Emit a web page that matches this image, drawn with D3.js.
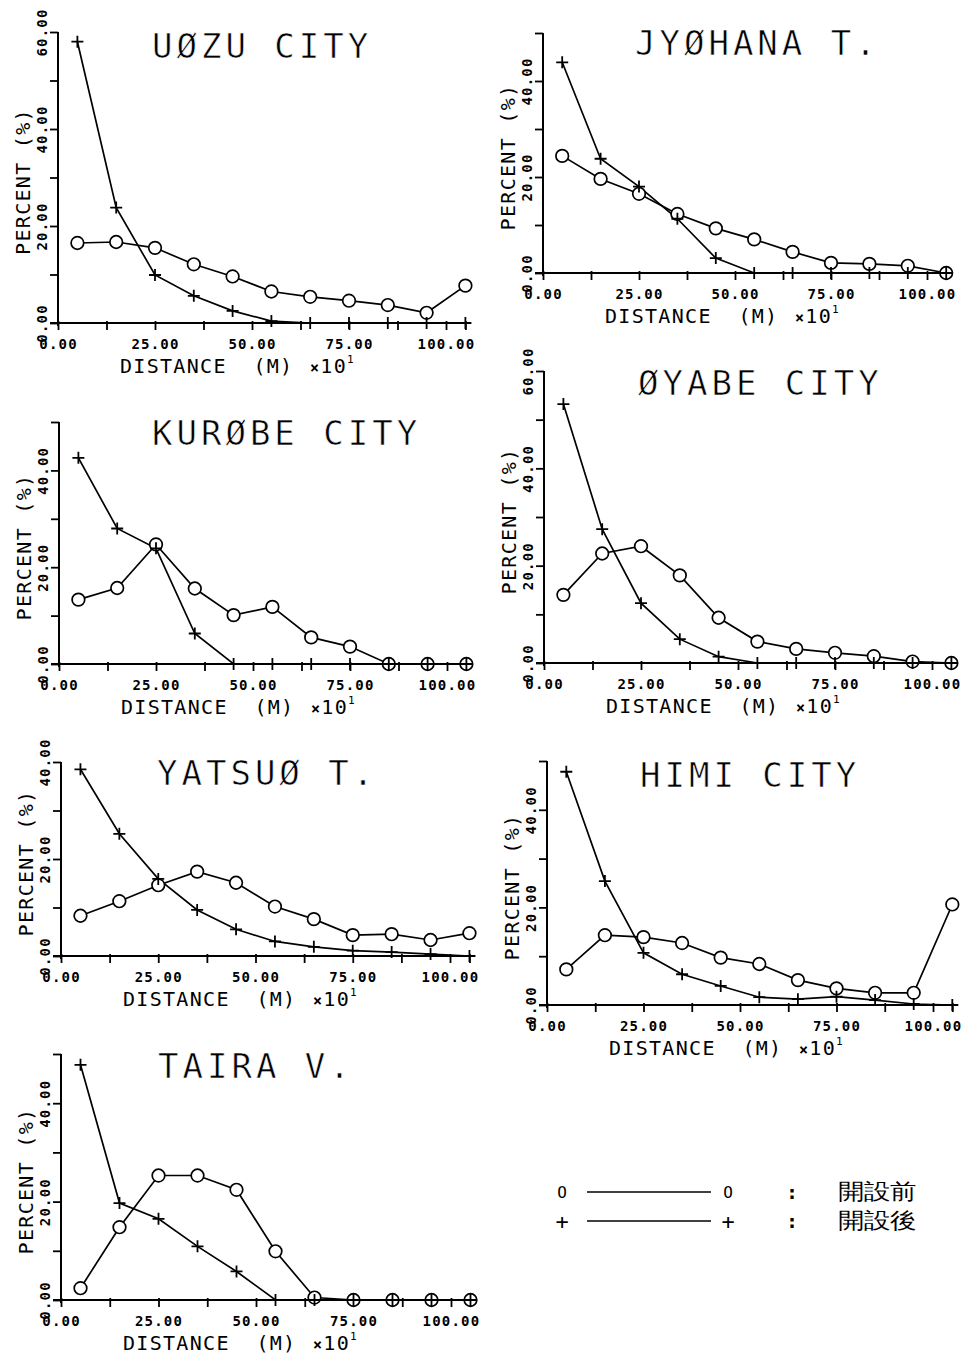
<!DOCTYPE html>
<html>
<head>
<meta charset="utf-8">
<script src="https://cdn.jsdelivr.net/npm/d3@7"></script>
<style>
  html, body { margin: 0; padding: 0; background: #fff; }
  svg { display: block; }
  text { font-family: "DejaVu Sans Mono", monospace; fill: #000; white-space: pre; }
  .thin { stroke: #fff; stroke-width: 0.6; }
</style>
</head>
<body>
<svg id="chart" width="971" height="1358"></svg>
<script>
// Distance classes (x 10 m), centre of each 100 m band
const distances = [5, 15, 25, 35, 45, 55, 65, 75, 85, 95, 105];

// Tick positions and labels
const xMajorTicks = [0, 25, 50, 75, 100];
const xMinorTicks = [12.5, 37.5, 62.5, 87.5];
const xTickLabels = ["0.00", "25.00", "50.00", "75.00", "100.00"];
const yTickLabelFormat = v => v.toFixed(2);

// Panel names and vertical ranges
const panelTitles = ["UØZU CITY", "JYØHANA T.", "KURØBE CITY", "ØYABE CITY", "YATSUØ T.", "HIMI CITY", "TAIRA V."];
const yAxisMax = [60, 50, 50, 60, 40, 50, 50];

// Percent of users by distance: before (開設前, circles) and after (開設後, crosses)
const uozuBefore    = [16.5, 16.7, 15.5, 12.1, 9.6, 6.5, 5.4, 4.6, 3.7, 2.1, 7.7];
const uozuAfter     = [58.0, 23.8, 9.9, 5.6, 2.5, 0.4, 0, 0, 0, 0, 0];
const jyohanaBefore = [24.4, 19.6, 16.5, 12.3, 9.3, 7.0, 4.4, 2.1, 1.9, 1.5, 0];
const jyohanaAfter  = [43.9, 23.8, 18.0, 11.3, 3.1, 0, 0, 0, 0, 0, 0];
const kurobeBefore  = [13.3, 15.7, 24.7, 15.6, 10.1, 11.8, 5.5, 3.6, 0, 0, 0];
const kurobeAfter   = [42.6, 28.0, 23.9, 6.3, 0, 0, 0, 0, 0, 0, 0];
const oyabeBefore   = [14.0, 22.5, 24.0, 18.0, 9.3, 4.4, 2.9, 2.1, 1.4, 0.3, 0];
const oyabeAfter    = [53.2, 27.5, 12.3, 4.9, 1.3, 0, 0, 0, 0, 0, 0];
const yatsuoBefore  = [8.3, 11.3, 14.6, 17.4, 15.1, 10.2, 7.6, 4.3, 4.5, 3.3, 4.7];
const yatsuoAfter   = [38.5, 25.2, 15.9, 9.5, 5.5, 3.0, 1.9, 1.1, 0.8, 0.4, 0];
const himiBefore    = [7.3, 14.3, 13.9, 12.7, 9.7, 8.4, 5.1, 3.4, 2.5, 2.5, 20.6];
const himiAfter     = [47.8, 25.4, 10.7, 6.3, 3.9, 1.6, 1.2, 1.7, 1.0, 0.2, 0];
const tairaBefore   = [2.4, 14.8, 25.3, 25.3, 22.4, 9.9, 0.5, 0, 0, 0, 0];
const tairaAfter    = [47.8, 19.7, 16.5, 10.9, 5.8, 0, 0, 0, 0, 0, 0];

const seriesBefore = [uozuBefore, jyohanaBefore, kurobeBefore, oyabeBefore, yatsuoBefore, himiBefore, tairaBefore];
const seriesAfter  = [uozuAfter, jyohanaAfter, kurobeAfter, oyabeAfter, yatsuoAfter, himiAfter, tairaAfter];

// Legend
const legendLabels = ["開設前", "開設後"];

// ---- layout (pixel frame of each panel) ----
const panelFrames = [
  { x0: 58,  x100: 446, y0: 323,  yTop: 32,   tx: 152, ty: 58 },
  { x0: 543, x100: 927, y0: 273,  yTop: 33,   tx: 635, ty: 55 },
  { x0: 59,  x100: 447, y0: 664,  yTop: 422,  tx: 152, ty: 445 },
  { x0: 544, x100: 932, y0: 663,  yTop: 371,  tx: 638, ty: 395 },
  { x0: 61,  x100: 450, y0: 956,  yTop: 762,  tx: 157, ty: 785 },
  { x0: 547, x100: 933, y0: 1005, yTop: 761,  tx: 640, ty: 787 },
  { x0: 61,  x100: 451, y0: 1300, yTop: 1054, tx: 158, ty: 1078 }
];

const svg = d3.select("#chart");
svg.append("rect").attr("width", 971).attr("height", 1358).attr("fill", "#fff");

const plusPath = "M-6,0H6M0,-6V6";

panelFrames.forEach((f, i) => {
  const g = svg.append("g");
  const xEnd = f.x0 + (f.x100 - f.x0) * 1.05;
  const x = d3.scaleLinear().domain([0, 105]).range([f.x0, xEnd]);
  const y = d3.scaleLinear().domain([0, yAxisMax[i]]).range([f.y0, f.yTop]);

  // X axis
  const xTicks = xMajorTicks.concat(xMinorTicks, [105]).sort((a, b) => a - b);
  const xAxis = d3.axisBottom(x)
    .tickValues(xTicks)
    .tickSize(7)
    .tickSizeOuter(0)
    .tickFormat(d => {
      const k = xMajorTicks.indexOf(d);
      return k >= 0 ? xTickLabels[k] : "";
    });
  const gx = g.append("g").attr("transform", `translate(0,${f.y0})`).call(xAxis);
  gx.select(".domain").attr("stroke", "#000").attr("stroke-width", 2)
    .attr("d", `M${f.x0 - 8},0H${xEnd + 3}`);
  gx.selectAll(".tick line").attr("stroke", "#000").attr("stroke-width", 1.8).attr("y1", -2);
  gx.selectAll(".tick text")
    .attr("y", 26).attr("dy", 0)
    .attr("font-family", "DejaVu Sans Mono, monospace")
    .attr("font-size", 14).attr("font-weight", "bold")
    .attr("letter-spacing", 1.2)
    .attr("fill", "#000");

  // Y axis
  const yTicks = d3.range(0, yAxisMax[i] + 1, 10);
  const yAxis = d3.axisLeft(y)
    .tickValues(yTicks)
    .tickSize(8)
    .tickSizeOuter(0)
    .tickFormat(d => d % 20 === 0 ? yTickLabelFormat(d) : "");
  const gy = g.append("g").attr("transform", `translate(${f.x0},0)`).call(yAxis);
  gy.select(".domain").attr("stroke", "#000").attr("stroke-width", 2)
    .attr("d", `M0,${f.yTop}V${f.y0 + 3}`);
  gy.selectAll(".tick line").attr("stroke", "#000").attr("stroke-width", 1.8);
  gy.selectAll(".tick text")
    .attr("transform", "rotate(-90)")
    .attr("x", 0).attr("y", -11).attr("dy", 0)
    .attr("text-anchor", "middle")
    .attr("font-family", "DejaVu Sans Mono, monospace")
    .attr("font-size", 14).attr("font-weight", "bold")
    .attr("letter-spacing", 1.2)
    .attr("fill", "#000");

  // Axis titles
  g.append("text")
    .attr("x", f.x0 + 62).attr("y", f.y0 + 50)
    .attr("font-size", 20).attr("letter-spacing", 1.3)
    .text("DISTANCE  (M)");
  const mult = g.append("text")
    .attr("x", f.x0 + 252).attr("y", f.y0 + 50)
    .attr("font-size", 20).attr("letter-spacing", 1.3);
  mult.append("tspan").attr("font-size", 15).attr("font-weight", "bold").text("×");
  mult.append("tspan").text("10");
  mult.append("tspan").attr("font-size", 11).attr("dy", -10).text("1");

  g.append("text")
    .attr("transform", `translate(${f.x0 - 28},${(f.y0 + f.yTop) / 2 + 4}) rotate(-90)`)
    .attr("text-anchor", "middle")
    .attr("font-size", 20).attr("letter-spacing", 1.3)
    .text("PERCENT (%)");

  // Panel title
  g.append("text")
    .attr("x", f.tx).attr("y", f.ty)
    .attr("font-size", 34).attr("letter-spacing", 4)
    .attr("class", "thin")
    .text(panelTitles[i]);

  // Series
  const before = distances.map((d, k) => ({ dist: d, v: seriesBefore[i][k] }));
  const after  = distances.map((d, k) => ({ dist: d, v: seriesAfter[i][k] }));
  const line = d3.line().x(d => x(d.dist)).y(d => y(d.v));

  g.append("path").datum(before).attr("d", line)
    .attr("fill", "none").attr("stroke", "#000").attr("stroke-width", 1.7);
  g.append("path").datum(after).attr("d", line)
    .attr("fill", "none").attr("stroke", "#000").attr("stroke-width", 1.7);

  g.selectAll(".circ").data(before).enter().append("circle")
    .attr("cx", d => x(d.dist)).attr("cy", d => y(d.v)).attr("r", 6.3)
    .attr("fill", "#fff").attr("stroke", "#000").attr("stroke-width", 1.7);

  g.selectAll(".plus").data(after).enter().append("path")
    .attr("transform", d => `translate(${x(d.dist)},${y(d.v)})`)
    .attr("d", plusPath)
    .attr("fill", "none").attr("stroke", "#000").attr("stroke-width", 1.8);
});

// Legend
const legendRows = [
  { y: 1192, mark: "O", markSize: 16, dy: 6 },
  { y: 1221, mark: "+", markSize: 22, dy: 8 }
];
legendRows.forEach((r, k) => {
  const lg = svg.append("g");
  lg.append("text").attr("x", 562).attr("y", r.y + r.dy)
    .attr("text-anchor", "middle").attr("font-size", r.markSize).text(r.mark);
  lg.append("line").attr("x1", 587).attr("x2", 711).attr("y1", r.y).attr("y2", r.y)
    .attr("stroke", "#000").attr("stroke-width", 1.6);
  lg.append("text").attr("x", 728).attr("y", r.y + r.dy)
    .attr("text-anchor", "middle").attr("font-size", r.markSize).text(r.mark);
  lg.append("text").attr("x", 792).attr("y", r.y + 7)
    .attr("text-anchor", "middle").attr("font-size", 20).attr("font-weight", "bold").text(":");
  lg.append("g").attr("transform", `translate(838,${r.y + 7}) scale(1.02,0.85)`)
    .append("text")
    .attr("font-family", "Noto Sans CJK JP")
    .attr("font-size", 26)
    .text(legendLabels[k]);
});
</script>
</body>
</html>
